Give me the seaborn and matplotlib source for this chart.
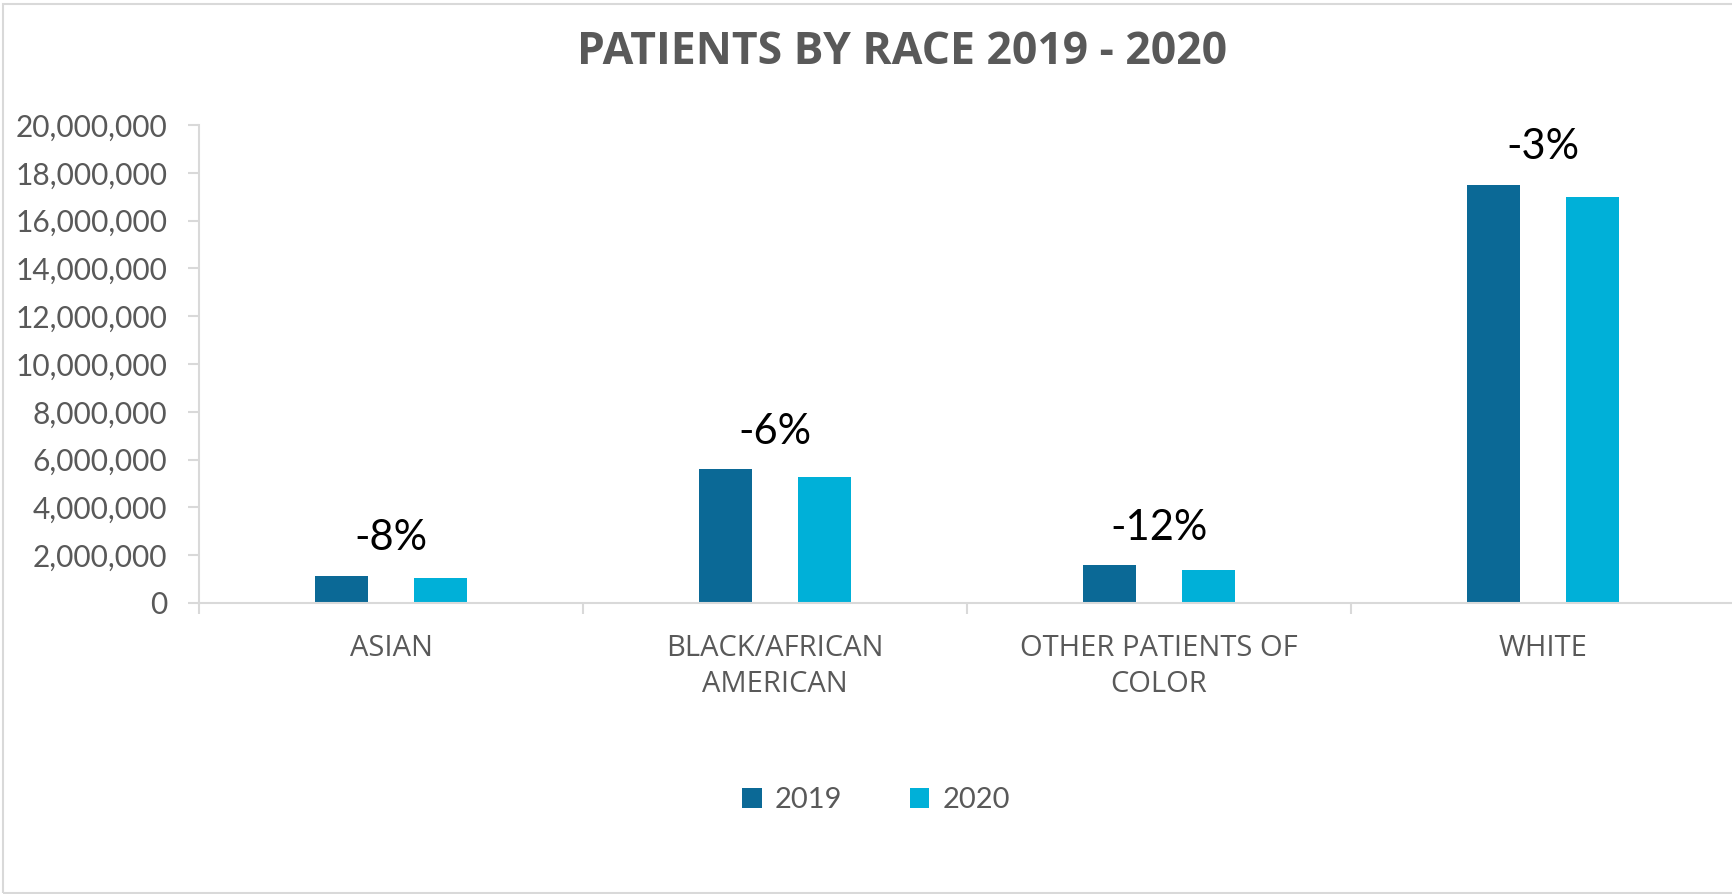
import matplotlib
matplotlib.use("Agg")
import matplotlib.pyplot as plt
import pandas as pd
import seaborn as sns
from matplotlib.patches import Rectangle
from matplotlib.ticker import FuncFormatter

# data
races = ["ASIAN", "BLACK/AFRICAN\nAMERICAN", "OTHER PATIENTS OF\nCOLOR", "WHITE"]
patients_2019 = [1_150_000, 5_600_000, 1_570_000, 17_500_000]
patients_2020 = [1_060_000, 5_280_000, 1_390_000, 17_000_000]
change_labels = ["-8%", "-6%", "-12%", "-3%"]
years = ["2019", "2020"]
y_ticks = list(range(0, 20_000_001, 2_000_000))

GRAY_TXT = "#595959"
GRAY_LINE = "#D9D9D9"
palette = {"2019": "#0B6996", "2020": "#00B0D8"}

df = pd.DataFrame({
    "race": races * 2,
    "year": [years[0]] * len(races) + [years[1]] * len(races),
    "patients": patients_2019 + patients_2020,
})

sns.set_style("white")
plt.rcParams["font.family"] = ["Lato", "DejaVu Sans"]

W, H = 1732, 894
fig = plt.figure(figsize=(W / 100, H / 100), dpi=100)
ax = fig.add_axes([199 / W, (H - 603) / H, (1735 - 199) / W, (603 - 125) / H])

sns.barplot(data=df, x="race", y="patients", hue="year", order=races,
            hue_order=years, palette=palette, width=0.52, gap=0.47,
            saturation=1, linewidth=0, ax=ax)

ax.set_xlim(-0.5, len(races) - 0.5)
ax.set_ylim(0, 20_000_000)
ax.set_yticks(y_ticks)
ax.yaxis.set_major_formatter(FuncFormatter(lambda v, _: f"{int(v):,}"))
ax.set_xlabel("")
ax.set_ylabel("")

for side in ["top", "right"]:
    ax.spines[side].set_visible(False)
for side in ["left", "bottom"]:
    ax.spines[side].set_color(GRAY_LINE)
    ax.spines[side].set_linewidth(1.5)

ax.tick_params(axis="y", length=8, width=1.5, color=GRAY_LINE, pad=15,
               labelsize=21.5, labelcolor=GRAY_TXT, left=True)
ax.set_xticks([i - 0.5 for i in range(len(races) + 1)], minor=True)
ax.tick_params(axis="x", which="minor", length=8, width=1.5, color=GRAY_LINE,
               bottom=True)
ax.tick_params(axis="x", which="major", length=0, pad=22, labelsize=21,
               labelcolor=GRAY_TXT)
for lbl in ax.get_xticklabels():
    lbl.set_family(["Open Sans", "DejaVu Sans"])
    lbl.set_linespacing(1.35)

# percent change above each pair
for i, txt in enumerate(change_labels):
    top = max(patients_2019[i], patients_2020[i])
    ax.annotate(txt, (i, top), xytext=(0, 27), textcoords="offset points",
                ha="center", va="center", fontsize=30, color="black")

fig.text(902 / W, 1 - 52 / H, "PATIENTS BY RACE 2019 - 2020", ha="center",
         va="center", fontsize=32, fontweight="bold", color=GRAY_TXT,
         family=["Open Sans", "DejaVu Sans"])

handles, labels = ax.get_legend_handles_labels()
ax.legend_.remove()
fig.legend(handles, labels, loc="center", bbox_to_anchor=(876 / W, (H - 800) / H),
           ncol=2, frameon=False, fontsize=21, labelcolor=GRAY_TXT,
           handlelength=0.68, handleheight=0.68, handletextpad=0.45,
           columnspacing=2.3)

# chart-area border (right edge is cropped in the reference)
fig.add_artist(Rectangle((3 / W, 1 / H), 1.2, 889 / H, transform=fig.transFigure,
                         fill=False, edgecolor=GRAY_LINE, linewidth=1.5))

fig.savefig("out.png", dpi=100)
